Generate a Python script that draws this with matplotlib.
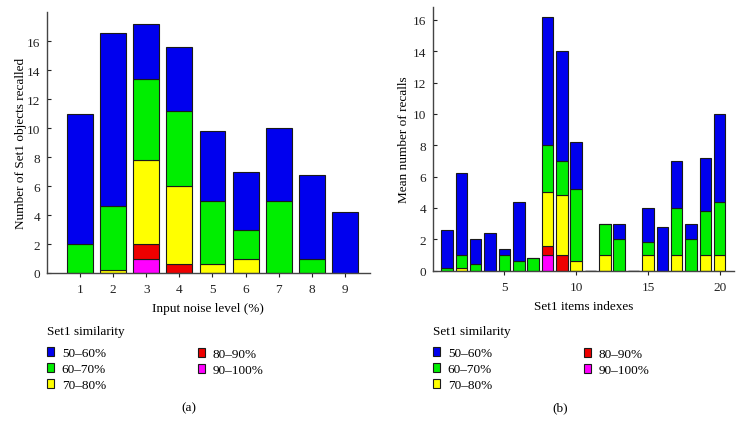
import numpy as np
import matplotlib
matplotlib.use("Agg")
import matplotlib.pyplot as plt
from matplotlib.patches import Patch

plt.rcParams['font.family'] = ['Liberation Serif', 'DejaVu Serif']
plt.rcParams['font.size'] = 9.5

# similarity classes, bottom of the stack first
classes = ['90–100%', '80–90%', '70–80%', '60–70%', '50–60%']
colors = ['#FF00FF', '#EE0000', '#FFFF00', '#00EE00', '#0000EE']

# (a) objects recalled per input noise level
noise = np.arange(1, 10)
a_90 = [0, 0, 1.0, 0, 0, 0, 0, 0, 0]
a_80 = [0, 0, 1.0, 0.6, 0, 0, 0, 0, 0]
a_70 = [0, 0.2, 5.8, 5.4, 0.6, 1.0, 0, 0, 0]
a_60 = [2.0, 4.4, 5.6, 5.2, 4.4, 2.0, 5.0, 1.0, 0]
a_50 = [9.0, 12.0, 3.8, 4.4, 4.8, 4.0, 5.0, 5.8, 4.2]

# (b) mean number of recalls per Set1 item
items = np.arange(1, 21)
b_90 = [0, 0, 0, 0, 0, 0, 0, 1.0, 0, 0, 0, 0, 0, 0, 0, 0, 0, 0, 0, 0]
b_80 = [0, 0, 0, 0, 0, 0, 0, 0.6, 1.0, 0, 0, 0, 0, 0, 0, 0, 0, 0, 0, 0]
b_70 = [0, 0.2, 0, 0, 0, 0, 0, 3.4, 3.8, 0.6, 0, 1.0, 0, 0, 1.0, 0, 1.0, 0, 1.0, 1.0]
b_60 = [0.2, 0.8, 0.4, 0, 1.0, 0.6, 0.8, 3.0, 2.2, 4.6, 0, 2.0, 2.0, 0, 0.8, 0, 3.0, 2.0, 2.8, 3.4]
b_50 = [2.4, 5.2, 1.6, 2.4, 0.4, 3.8, 0, 8.2, 7.0, 3.0, 0, 0, 1.0, 0, 2.2, 2.8, 3.0, 1.0, 3.4, 5.6]

W, H = 742, 435
fig = plt.figure(figsize=(W / 100, H / 100), dpi=100)


def px_axes(l, t, r, b):
    return fig.add_axes([l / W, 1 - b / H, (r - l) / W, (b - t) / H])


def stack(ax, x, layers, width):
    bottom = np.zeros(len(x))
    for vals, c in zip(layers, colors):
        vals = np.array(vals, dtype=float)
        ax.bar(x, vals, width, bottom=bottom, color=c, edgecolor='#1a1a1a', linewidth=0.8)
        bottom += vals


def style(ax):
    for s in ['top', 'right']:
        ax.spines[s].set_visible(False)
    for s in ['left', 'bottom']:
        ax.spines[s].set_color('#444444')
        ax.spines[s].set_linewidth(1.0)
    ax.tick_params(axis='y', direction='in', length=3, pad=4.5, colors='#222222')
    ax.tick_params(axis='x', direction='out', length=3, pad=4.5, colors='#222222')


ax1 = px_axes(46.7, 13.3, 370, 274)
stack(ax1, noise, [a_90, a_80, a_70, a_60, a_50], 0.78)
ax1.set_xlim(0, 9.75)
ax1.set_ylim(0, 18)
ax1.set_xticks(noise)
ax1.set_yticks(np.arange(0, 17, 2))
style(ax1)
ax1.set_ylabel('Number of Set1 objects recalled')
ax1.set_xlabel('Input noise level (%)')
ax1.yaxis.set_label_coords(-0.062, 0.5)
ax1.xaxis.set_label_coords(0.5, -0.11)

ax2 = px_axes(432.7, 8.3, 734, 271.7)
stack(ax2, items, [b_90, b_80, b_70, b_60, b_50], 0.8)
ax2.set_xlim(0, 21)
ax2.set_ylim(0, 16.8)
ax2.set_xticks([5, 10, 15, 20])
ax2.set_yticks(np.arange(0, 17, 2))
style(ax2)
ax2.set_ylabel('Mean number of recalls')
ax2.set_xlabel('Set1 items indexes')
ax2.yaxis.set_label_coords(-0.074, 0.5)
ax2.xaxis.set_label_coords(0.5, -0.11)

# legends: two columns under each panel
order = [4, 3, 2, 1, 0]
handles = [Patch(facecolor=colors[i], edgecolor='#1a1a1a', linewidth=0.8) for i in order]
labels = [classes[i] for i in order]

for x0 in (46.7, 432.7):
    kw = dict(frameon=False, loc='upper left', borderpad=0, borderaxespad=0,
              handlelength=0.55, handleheight=0.7, handletextpad=0.6,
              labelspacing=0.3)
    lg = fig.legend(handles[:3], labels[:3], title='Set1 similarity',
                    alignment='left', bbox_to_anchor=(x0 / W, 1 - 326 / H), **kw)
    lg._legend_box.sep = 7
    fig.legend(handles[3:], labels[3:], bbox_to_anchor=((x0 + 151) / W, 1 - 349 / H), **kw)

fig.text(189 / W, 1 - 408 / H, '(a)', ha='center', va='center')
fig.text(560 / W, 1 - 408 / H, '(b)', ha='center', va='center')

fig.savefig('out.png', dpi=100)
